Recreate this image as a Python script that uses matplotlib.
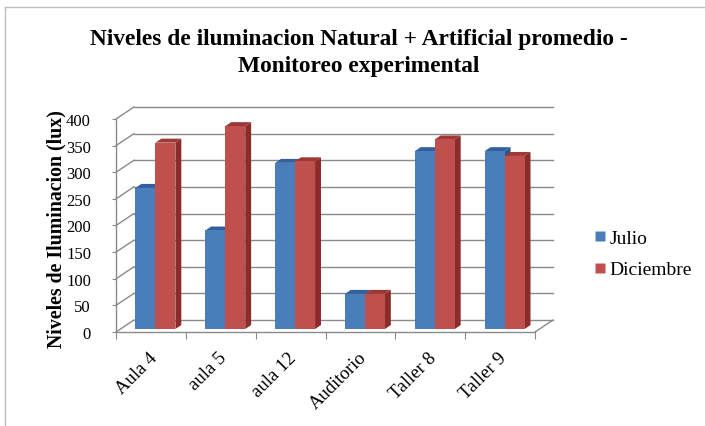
import matplotlib
matplotlib.use("Agg")
import matplotlib.pyplot as plt
from matplotlib.patches import Polygon
from matplotlib.lines import Line2D

categories = ["Aula 4", "aula 5", "aula 12", "Auditorio", "Taller 8", "Taller 9"]
julio = [265, 185, 312, 66, 334, 334]
diciembre = [350, 381, 315, 66, 356, 325]
series_names = ["Julio", "Diciembre"]
yticks = [0, 50, 100, 150, 200, 250, 300, 350, 400]

plt.rcParams['font.family'] = 'serif'
plt.rcParams['font.serif'] = ['Liberation Serif', 'DejaVu Serif']

W, H = 705, 427
fig = plt.figure(figsize=(W / 100, H / 100), dpi=100)
fig.patch.set_facecolor('white')

# outer chart border (top and left visible)
fig.add_artist(Line2D([5 / W, 5 / W], [0, 1 - 8 / H], transform=fig.transFigure, color='#bdbdbd', lw=1))
fig.add_artist(Line2D([5 / W, 1], [1 - 8 / H, 1 - 8 / H], transform=fig.transFigure, color='#bdbdbd', lw=1))

# axes placement (front plane)
x0, x1, ytop, ybot = 116, 553, 108, 333
ax = fig.add_axes([x0 / W, (H - ybot) / H, (x1 - x0) / W, (ybot - ytop) / H])
n = len(categories)
ymax = 400
DX = 18 / 70.0          # depth offset in category units
DY = 12 / ((ybot - ytop) / (ymax + 22.5))  # depth offset in value units
ax.set_xlim(0, n + DX)
ax.set_ylim(0, ymax + DY)
for s in ax.spines.values():
    s.set_visible(False)

grid_c = '#8a8a8a'
for v in yticks:
    ax.plot([DX, n + DX], [v + DY, v + DY], color=grid_c, lw=1, zorder=1, clip_on=False)
    ax.plot([0, DX], [v, v + DY], color=grid_c, lw=1, zorder=1, clip_on=False)
ax.plot([0, 0], [0, ymax], color=grid_c, lw=1, zorder=1, clip_on=False)
ax.plot([0, n], [0, 0], color=grid_c, lw=1, zorder=1, clip_on=False)
ax.plot([n, n + DX], [0, DY], color=grid_c, lw=1, zorder=1, clip_on=False)

ax.set_yticks(yticks)
ax.set_yticklabels([str(t) for t in yticks], fontsize=12)
ax.tick_params(axis='y', length=3, color=grid_c, pad=15)
ax.set_xticks(range(n + 1))
ax.set_xticklabels([''] * (n + 1))
ax.tick_params(axis='x', length=5, color=grid_c, direction='out')

colors = {
    0: ('#4A7EBB', '#32609C', '#2C548A'),
    1: ('#C0504D', '#9E3835', '#8A2C2A'),
}
w = 0.286
f0, f1 = 0.25, 0.58


def P(x, y, f):
    return (x + f * DX, y + f * DY)


for i in range(n):
    for s, vals in enumerate([julio, diciembre]):
        v = vals[i]
        xl = i + 0.5 - w + s * w
        xr = xl + w
        front, top, side = colors[s]
        ax.add_patch(Polygon([P(xr, 0, f0), P(xr, v, f0), P(xr, v, f1), P(xr, 0, f1)],
                             closed=True, facecolor=side, edgecolor='none', zorder=3 + s))
        ax.add_patch(Polygon([P(xl, v, f0), P(xr, v, f0), P(xr, v, f1), P(xl, v, f1)],
                             closed=True, facecolor=top, edgecolor='none', zorder=3 + s))
        ax.add_patch(Polygon([P(xl, 0, f0), P(xr, 0, f0), P(xr, v, f0), P(xl, v, f0)],
                             closed=True, facecolor=front, edgecolor='none', zorder=3 + s))

for i, c in enumerate(categories):
    ax.annotate(c, xy=(i + 0.5, 0), xytext=(-2, -12), textcoords='offset points',
                rotation=45, ha='right', va='top', rotation_mode='anchor', fontsize=13.5)

fig.text(56 / W, 1 - 229 / H, "Niveles de Iluminacion (lux)", rotation=90,
         ha='center', va='center', fontsize=14.3, fontweight='bold')

fig.text(359 / W, 1 - 45 / H, "Niveles de iluminacion Natural + Artificial promedio -",
         ha='center', va='baseline', fontsize=16.8, fontweight='bold')
fig.text(359 / W, 1 - 72 / H, "Monitoreo experimental",
         ha='center', va='baseline', fontsize=16.8, fontweight='bold')

handles = [Line2D([], [], marker='s', linestyle='none', markersize=7.5,
                  markerfacecolor=colors[k][0], markeredgecolor='none') for k in range(2)]
fig.legend(handles, series_names, loc='center left', bbox_to_anchor=(582 / W, 1 - 255 / H),
           frameon=False, fontsize=14, handletextpad=0.1, labelspacing=0.7,
           borderpad=0, handlelength=0.8)

fig.savefig("out.png", dpi=100)
